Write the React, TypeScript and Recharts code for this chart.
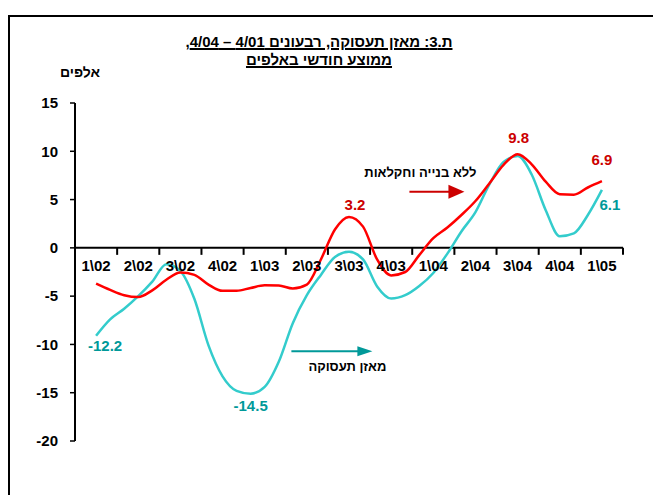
import React from 'react';
import { LineChart, Line, XAxis, YAxis, ReferenceLine, ReferenceDot } from 'recharts';

// quarter labels on the x axis, monthly points (3 per quarter)
const QUARTERS = ['1\\02', '2\\02', '3\\02', '4\\02', '1\\03', '2\\03', '3\\03', '4\\03', '1\\04', '2\\04', '3\\04', '4\\04', '1\\05'];

// מאזן תעסוקה (monthly, thousands)
const BALANCE = [
  -9.1, -7.4, -6.3, -5.0, -3.5, -1.7, -2.4, -5.3, -10.1, -13.3, -14.8, -15.1, -14.4,
  -11.8, -7.8, -4.9, -2.8, -0.95, -0.4, -1.2, -4.0, -5.25, -4.9, -3.95, -2.6, -0.6,
  1.7, 3.7, 6.6, 8.9, 9.5, 7.6, 3.9, 1.2, 1.5, 3.4, 6.0,
];

// ללא בנייה וחקלאות
const EXCL = [
  -3.7, -4.35, -4.9, -5.1, -4.4, -3.3, -2.55, -2.8, -3.8, -4.45, -4.45, -4.15, -3.88,
  -3.9, -4.2, -3.8, -1.2, 1.9, 3.2, 2.2, -1.2, -2.85, -2.5, -0.75, 1.0, 2.1,
  3.4, 4.85, 6.7, 8.6, 9.7, 8.65, 6.85, 5.55, 5.5, 6.25, 6.9,
];

const Y_TICKS = [15, 10, 5, 0, -5, -10, -15, -20];

const RED = '#FF0000';
const RED_DARK = '#CC0000';
const TEAL = '#33CCCC';
const TEAL_DARK = '#009999';
const FONT = '"Liberation Sans", Arial, sans-serif';

const data = BALANCE.map((v, i) => ({ m: i, balance: v, excl: EXCL[i] }));
const centers = QUARTERS.map((_, q) => q * 3);
const edges = [...QUARTERS.map((_, q) => q * 3 - 1.5), QUARTERS.length * 3 - 1.5];

type DotProps = { cx?: number; cy?: number };

const valueLabel = (text: string, color: string, dx: number, dy: number) => (p: DotProps) => (
  <text
    x={(p.cx ?? 0) + dx}
    y={(p.cy ?? 0) + dy}
    textAnchor="middle"
    fill={color}
    fontFamily={FONT}
    fontWeight="bold"
    fontSize={15}
  >
    {text}
  </text>
);

const arrow = (
  len: number,
  headLen: number,
  headH: number,
  color: string,
  text: string,
  tdx: number,
  tdy: number,
) => (p: DotProps) => {
  const x = p.cx ?? 0;
  const y = p.cy ?? 0;
  const tip = x + len;
  return (
    <g>
      <line x1={x} y1={y} x2={tip - headLen + 1} y2={y} stroke={color} strokeWidth={2} />
      <polygon
        points={`${tip - headLen},${y - headH / 2} ${tip},${y} ${tip - headLen},${y + headH / 2}`}
        fill={color}
      />
      <text
        x={x + tdx}
        y={y + tdy}
        textAnchor="middle"
        direction="rtl"
        fill="#000"
        fontFamily={FONT}
        fontWeight="bold"
        fontSize={13}
      >
        {text}
      </text>
    </g>
  );
};

export default function App() {
  return (
    <div
      style={{
        position: 'fixed',
        left: 0,
        top: 0,
        width: 653,
        height: 495,
        background: '#fff',
        overflow: 'hidden',
        fontFamily: FONT,
      }}
    >
      <div
        style={{
          position: 'absolute',
          left: 8,
          top: 15,
          right: -10,
          bottom: -10,
          borderTop: '2px solid #000',
          borderLeft: '2px solid #000',
        }}
      />
      <div
        style={{
          position: 'absolute',
          left: 0,
          width: 638,
          top: 33,
          textAlign: 'center',
          direction: 'rtl',
          fontWeight: 'bold',
          fontSize: 15,
          lineHeight: '18px',
          textDecoration: 'underline',
          textDecorationThickness: '1.5px',
          color: '#000',
        }}
      >
        <div>ת.3: מאזן תעסוקה, רבעונים 4/01 – 4/04,</div>
        <div>ממוצע חודשי באלפים</div>
      </div>
      <div
        style={{
          position: 'absolute',
          left: 56,
          width: 48,
          top: 63,
          textAlign: 'center',
          direction: 'rtl',
          fontWeight: 'bold',
          fontSize: 14,
          lineHeight: '18px',
        }}
      >
        אלפים
      </div>

      <div style={{ position: 'absolute', left: 0, top: 0 }}>
        <LineChart width={653} height={495} data={data} margin={{ top: 103, right: 30, bottom: 54, left: 5 }}>
          <XAxis type="number" dataKey="m" domain={[-1.5, 37.5]} ticks={edges} allowDataOverflow hide />
          <YAxis
            type="number"
            domain={[-20, 15]}
            ticks={Y_TICKS}
            interval={0}
            allowDataOverflow
            width={70}
            axisLine={{ stroke: '#000', strokeWidth: 2 }}
            tickLine={{ stroke: '#000', strokeWidth: 1.5 }}
            tickSize={5}
            tickMargin={12}
            tick={{ fill: '#000', fontFamily: FONT, fontWeight: 'bold', fontSize: 15 }}
          />
          <ReferenceLine y={0} stroke="#000" strokeWidth={2} />
          {edges.map((e) => (
            <ReferenceDot
              key={`e${e}`}
              x={e}
              y={0}
              r={0}
              shape={(p: DotProps) => (
                <line x1={p.cx} y1={p.cy} x2={p.cx} y2={(p.cy ?? 0) + 7} stroke="#000" strokeWidth={2} />
              )}
            />
          ))}
          {centers.map((c, q) => (
            <ReferenceDot
              key={`c${c}`}
              x={c}
              y={0}
              r={0}
              shape={(p: DotProps) => (
                <text
                  x={p.cx}
                  y={(p.cy ?? 0) + 23}
                  textAnchor="middle"
                  fill="#000"
                  fontFamily={FONT}
                  fontWeight="bold"
                  fontSize={15}
                >
                  {QUARTERS[q]}
                </text>
              )}
            />
          ))}
          <Line
            type="monotone"
            dataKey="balance"
            stroke={TEAL}
            strokeWidth={2.5}
            dot={false}
            activeDot={false}
            isAnimationActive={false}
          />
          <Line
            type="monotone"
            dataKey="excl"
            stroke={RED}
            strokeWidth={2.5}
            dot={false}
            activeDot={false}
            isAnimationActive={false}
          />
          <ReferenceDot x={18} y={EXCL[18]} r={0} shape={valueLabel('3.2', RED_DARK, 6, -7)} />
          <ReferenceDot x={30} y={EXCL[30]} r={0} shape={valueLabel('9.8', RED_DARK, 1, -11)} />
          <ReferenceDot x={36} y={EXCL[36]} r={0} shape={valueLabel('6.9', RED_DARK, 0, -16)} />
          <ReferenceDot x={36} y={BALANCE[36]} r={0} shape={valueLabel('6.1', TEAL_DARK, 8, 20)} />
          <ReferenceDot x={0} y={BALANCE[0]} r={0} shape={valueLabel('-12.2', TEAL_DARK, 9, 15)} />
          <ReferenceDot x={11} y={BALANCE[11]} r={0} shape={valueLabel('-14.5', TEAL_DARK, 0, 17)} />
          <ReferenceDot
            x={22.3}
            y={5.8}
            r={0}
            shape={arrow(55, 16, 14, RED_DARK, 'ללא בנייה וחקלאות', 11, -15)}
          />
          <ReferenceDot
            x={13.9}
            y={-10.7}
            r={0}
            shape={arrow(81, 15, 10, TEAL_DARK, 'מאזן תעסוקה', 56, 20)}
          />
        </LineChart>
      </div>
    </div>
  );
}
